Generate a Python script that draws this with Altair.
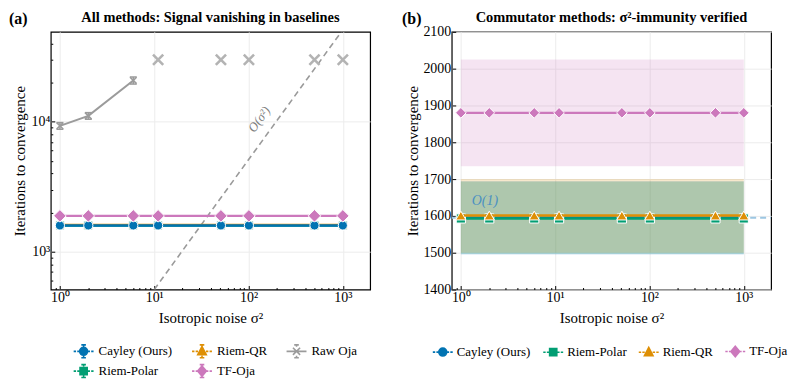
import altair as alt
import pandas as pd

FONT = "Liberation Serif"

# ---------------- data ----------------
sigma2 = [1, 2, 6, 11, 51, 101, 501, 1001]

# panel (a): iterations to convergence (log scale)
a_cayley = [1590, 1590, 1590, 1590, 1590, 1590, 1590, 1590]
a_polar = [1588, 1588, 1588, 1588, 1588, 1588, 1588, 1588]
a_qr = [1606, 1606, 1606, 1606, 1606, 1606, 1606, 1606]
a_tfoja = [1885, 1885, 1885, 1885, 1885, 1885, 1885, 1885]

raw_sigma2 = [1, 2, 6]
raw_iters = [9300, 11100, 20800]
raw_lo = [8750, 10450, 19500]
raw_hi = [9850, 11750, 22100]
fail_sigma2 = [11, 51, 101, 501, 1001]
fail_iters = [30000, 30000, 30000, 30000, 30000]

ref_a_sigma2 = [10, 1000]
ref_a_iters = [510, 51000]

# panel (b): commutator methods (linear scale)
b_cayley = [1595, 1595, 1595, 1595, 1595, 1595, 1595, 1595]
b_cayley_lo = [1495, 1495, 1495, 1495, 1495, 1495, 1495, 1495]
b_cayley_hi = [1695, 1695, 1695, 1695, 1695, 1695, 1695, 1695]
b_polar = [1593, 1593, 1593, 1593, 1593, 1593, 1593, 1593]
b_polar_lo = [1497, 1497, 1497, 1497, 1497, 1497, 1497, 1497]
b_polar_hi = [1693, 1693, 1693, 1693, 1693, 1693, 1693, 1693]
b_qr = [1601, 1601, 1601, 1601, 1601, 1601, 1601, 1601]
b_qr_lo = [1500, 1500, 1500, 1500, 1500, 1500, 1500, 1500]
b_qr_hi = [1700, 1700, 1700, 1700, 1700, 1700, 1700, 1700]
b_tfoja = [1880, 1880, 1880, 1880, 1880, 1880, 1880, 1880]
b_tfoja_lo = [1735, 1735, 1735, 1735, 1735, 1735, 1735, 1735]
b_tfoja_hi = [2025, 2025, 2025, 2025, 2025, 2025, 2025, 2025]
ref_b_sigma2 = [0.8, 1950]
ref_b_iters = [1595, 1595]

title_a = "All methods: Signal vanishing in baselines"
title_b = "Commutator methods: σ²-immunity verified"

C_CAYLEY = "#0173B2"
C_POLAR = "#029E73"
C_QR = "#DE8F05"
C_TF = "#CC78BC"
C_RAW = "#9B9B9B"

# ---------------- scales / axes ----------------
x_scale = alt.Scale(type="log", domain=[0.8, 1950], nice=False)
ya_scale = alt.Scale(type="log", domain=[511, 49200], nice=False)
yb_scale = alt.Scale(domain=[1400, 2100], nice=False, zero=False)

x_minor_vals = [0.9, 2, 3, 4, 5, 6, 7, 8, 9, 20, 30, 40, 50, 60, 70, 80, 90,
                200, 300, 400, 500, 600, 700, 800, 900]
ya_minor_vals = [600, 700, 800, 900, 2000, 3000, 4000, 5000, 6000, 7000, 8000,
                 9000, 20000, 30000, 40000]

SUP = ("datum.value == 1 ? '10⁰' : datum.value == 10 ? '10¹' : datum.value == 100 ? '10²' : "
       "datum.value == 1000 ? '10³' : datum.value == 10000 ? '10⁴' : ''")

W, H = 321, 259


def x_major():
    return alt.Axis(orient="bottom", values=[1, 10, 100, 1000], labelExpr=SUP,
                    title="Isotropic noise σ²", grid=True, gridColor="#ececec",
                    domain=False, tickSize=alt.ExprRef(expr="-4"), tickColor="black",
                    labelPadding=5, titlePadding=6)


def x_minor():
    return alt.Axis(orient="bottom", values=x_minor_vals, labels=False, grid=False,
                    domain=False, tickSize=alt.ExprRef(expr="-2"), tickColor="black",
                    title=None)


def df(x, y, **extra):
    d = {"x": x, "y": y}
    d.update(extra)
    return pd.DataFrame(d)


def X(axis=None):
    return alt.X("x:Q", scale=x_scale, axis=axis)


def YA(axis=None, field="y:Q"):
    return alt.Y(field, scale=ya_scale, axis=axis)


def YB(axis=None, field="y:Q"):
    return alt.Y(field, scale=yb_scale, axis=axis)


# legend symbol paths (designed in pixels, 7 px per path unit for symbolSize 196)
def u(v):
    return f"{v / 7:.3f}"


def seg(x1, y1, x2, y2):
    return f"M{u(x1)},{u(y1)}L{u(x2)},{u(y2)}"


LINE2 = seg(-10, 0, -7.6, 0) + seg(-6.4, 0, -4, 0) + seg(4, 0, 6.4, 0) + seg(7.6, 0, 10, 0)
LINEFULL = seg(-10, 0, 10, 0)
EB = (seg(0, -4.5, 0, -6.5) + seg(-2.3, -6.5, 2.3, -6.5) + seg(0, 4.5, 0, 6.5) +
      seg(-2.3, 6.5, 2.3, 6.5))
CIRC = f"M{u(4)},0A{u(4)},{u(4)},0,1,1,{u(-4)},0A{u(4)},{u(4)},0,1,1,{u(4)},0Z"
SQ = f"M{u(-3.6)},{u(-3.6)}L{u(3.6)},{u(-3.6)}L{u(3.6)},{u(3.6)}L{u(-3.6)},{u(3.6)}Z"
TRI = f"M0,{u(-4.8)}L{u(4.3)},{u(3.4)}L{u(-4.3)},{u(3.4)}Z"
DIA = f"M0,{u(-5.2)}L{u(4.4)},0L0,{u(5.2)}L{u(-4.4)},0Z"
XC = seg(-3.6, -3.6, 3.6, 3.6) + seg(-3.6, 3.6, 3.6, -3.6)

CAP = "M-1,0H1"
XMARK = "M-1,-1L1,1M-1,1L1,-1"


def legend_layer(order, cols, paths, columns, lx, ly, colpad, loff):
    leg = alt.Legend(title=None, orient="none", legendX=lx, legendY=ly,
                     direction="horizontal", columns=columns, symbolSize=196,
                     symbolStrokeWidth=1.6, symbolOpacity=1, labelFont=FONT,
                     labelFontSize=13, labelColor="black", columnPadding=colpad,
                     rowPadding=0, labelOffset=loff, padding=0)
    return alt.Chart(pd.DataFrame({"method": order})).mark_point(
        filled=True, opacity=0).encode(
        color=alt.Color("method:N", scale=alt.Scale(domain=order, range=cols), legend=leg),
        stroke=alt.Stroke("method:N", scale=alt.Scale(domain=order, range=cols), legend=leg),
        shape=alt.Shape("method:N", scale=alt.Scale(domain=order, range=paths), legend=leg),
    )


def series(data_y, color, shape, size, yfun):
    d = df(sigma2, data_y)
    line = alt.Chart(d).mark_line(color=color, strokeWidth=2.4).encode(x=X(), y=yfun())
    pts = alt.Chart(d).mark_point(filled=True, color=color, shape=shape, size=size,
                                  stroke="white", strokeWidth=1, opacity=1).encode(x=X(), y=yfun())
    return [line, pts]


def header(tag, title, tag_x):
    t1 = alt.Chart(pd.DataFrame({"t": [tag]})).mark_text(
        font=FONT, fontSize=16, fontWeight="bold", align="left", baseline="top").encode(
        text="t:N", x=alt.value(tag_x), y=alt.value(-21))
    t2 = alt.Chart(pd.DataFrame({"t": [title]})).mark_text(
        font=FONT, fontSize=14.5, fontWeight="bold", align="center", baseline="top").encode(
        text="t:N", x=alt.value(W / 2), y=alt.value(-21))
    return [t1, t2]


# ---------------- panel (a) ----------------
ya_major = alt.Axis(orient="left", values=[1000, 10000], labelExpr=SUP,
                    title="Iterations to convergence", grid=True, gridColor="#ececec",
                    domain=False, tickSize=alt.ExprRef(expr="-4"), tickColor="black",
                    labelPadding=5, titlePadding=4)
ya_minor = alt.Axis(orient="left", values=ya_minor_vals, labels=False, grid=False,
                    domain=False, tickSize=alt.ExprRef(expr="-2"), tickColor="black",
                    title=None)

axis_a1 = alt.Chart(df(sigma2, a_cayley)).mark_line(opacity=0).encode(
    x=X(x_major()), y=YA(ya_major))
axis_a2 = alt.Chart(df(sigma2, a_cayley)).mark_line(opacity=0).encode(
    x=X(x_minor()), y=YA(ya_minor))

ref_a = alt.Chart(df(ref_a_sigma2, ref_a_iters)).mark_line(
    color="#9a9a9a", strokeDash=[6, 4], strokeWidth=1.6, clip=True).encode(x=X(), y=YA())
ref_a_lbl = alt.Chart(df([130], [10400], t=["O(σ²)"])).mark_text(
    angle=306, font=FONT, fontSize=13, fontStyle="italic", color="#808080").encode(
    x=X(), y=YA(), text="t:N")

layers_a = [axis_a1, axis_a2, ref_a, ref_a_lbl]
layers_a += series(a_polar, C_POLAR, "square", 80, YA)
layers_a += series(a_qr, C_QR, "triangle-up", 90, YA)
layers_a += series(a_cayley, C_CAYLEY, "circle", 85, YA)
layers_a += series(a_tfoja, C_TF, "diamond", 160, YA)

raw_d = df(raw_sigma2, raw_iters, lo=raw_lo, hi=raw_hi)
layers_a.append(alt.Chart(raw_d).mark_line(color=C_RAW, strokeWidth=2).encode(x=X(), y=YA()))
layers_a.append(alt.Chart(raw_d).mark_rule(color=C_RAW, strokeWidth=1.5).encode(
    x=X(), y=YA(field="lo:Q"), y2="hi:Q"))
layers_a.append(alt.Chart(raw_d).mark_point(shape=CAP, size=49, color=C_RAW, strokeWidth=1.5,
                                            opacity=1).encode(x=X(), y=YA(field="lo:Q")))
layers_a.append(alt.Chart(raw_d).mark_point(shape=CAP, size=49, color=C_RAW, strokeWidth=1.5,
                                            opacity=1).encode(x=X(), y=YA(field="hi:Q")))
layers_a.append(alt.Chart(raw_d).mark_point(shape=XMARK, size=42, color=C_RAW, strokeWidth=1.6,
                                            opacity=1).encode(x=X(), y=YA()))
layers_a.append(alt.Chart(df(fail_sigma2, fail_iters)).mark_point(
    shape=XMARK, size=105, color="#b3b3b3", strokeWidth=2.6, opacity=1).encode(x=X(), y=YA()))

layers_a += header("(a)", title_a, -42)

order_a = ["Cayley (Ours)", "Riem-QR", "Raw Oja", "Riem-Polar", "TF-Oja"]
cols_a = [C_CAYLEY, C_QR, C_RAW, C_POLAR, C_TF]
paths_a = [LINE2 + EB + CIRC, LINE2 + EB + TRI, LINEFULL + EB + XC, LINE2 + EB + SQ,
           LINE2 + EB + DIA]
layers_a.append(legend_layer(order_a, cols_a, paths_a, 3, 25, 313, 15, 7))

panel_a = alt.layer(*layers_a).resolve_axis(x="independent", y="independent").properties(
    width=W, height=H)

# ---------------- panel (b) ----------------
yb_major = alt.Axis(orient="left", values=[1400, 1500, 1600, 1700, 1800, 1900, 2000, 2100],
                    format="d", title="Iterations to convergence", grid=True,
                    gridColor="#ececec", domain=False, tickSize=alt.ExprRef(expr="-4"),
                    tickColor="black", labelPadding=5, titlePadding=2)

axis_b1 = alt.Chart(df(sigma2, b_cayley)).mark_line(opacity=0).encode(
    x=X(x_major()), y=YB(yb_major))
axis_b2 = alt.Chart(df(sigma2, b_cayley)).mark_line(opacity=0).encode(
    x=X(x_minor()), y=YB())


def band(lo, hi, color):
    return alt.Chart(df(sigma2, lo, hi=hi)).mark_area(color=color, opacity=0.2).encode(
        x=X(), y=YB(), y2="hi:Q")


layers_b = [axis_b1, axis_b2,
            band(b_cayley_lo, b_cayley_hi, C_CAYLEY),
            band(b_polar_lo, b_polar_hi, C_POLAR),
            band(b_qr_lo, b_qr_hi, C_QR),
            band(b_tfoja_lo, b_tfoja_hi, C_TF)]
layers_b.append(alt.Chart(df(ref_b_sigma2, ref_b_iters)).mark_line(
    color="#9cc6e2", strokeDash=[6, 4], strokeWidth=1.8, clip=True).encode(x=X(), y=YB()))
layers_b.append(alt.Chart(df([1.8], [1640], t=["O(1)"])).mark_text(
    font=FONT, fontSize=14, fontStyle="italic", color="#4a90c2").encode(
    x=X(), y=YB(), text="t:N"))
layers_b += series(b_cayley, C_CAYLEY, "circle", 85, YB)
layers_b += series(b_polar, C_POLAR, "square", 85, YB)
layers_b += series(b_qr, C_QR, "triangle-up", 105, YB)
layers_b += series(b_tfoja, C_TF, "diamond", 115, YB)

layers_b += header("(b)", title_b, -50)

order_b = ["Cayley (Ours)", "Riem-Polar", "Riem-QR", "TF-Oja"]
cols_b = [C_CAYLEY, C_POLAR, C_QR, C_TF]
paths_b = [LINE2 + CIRC, LINE2 + SQ, LINE2 + TRI, LINE2 + DIA]
layers_b.append(legend_layer(order_b, cols_b, paths_b, 4, -17, 313, 8, 6))

panel_b = alt.layer(*layers_b).resolve_axis(x="independent", y="independent").properties(
    width=W, height=H)

chart = alt.hconcat(panel_a, panel_b, spacing=30).resolve_scale(
    x="independent", y="independent", color="independent", stroke="independent",
    shape="independent").properties(padding=0).configure_view(
    stroke="black", strokeWidth=1.2).configure_axis(
    labelFont=FONT, titleFont=FONT, labelFontSize=14, titleFontSize=15,
    labelColor="black", titleColor="black", titleFontWeight="normal")

chart.save("out.html", embed_options={"renderer": "svg", "actions": False})
